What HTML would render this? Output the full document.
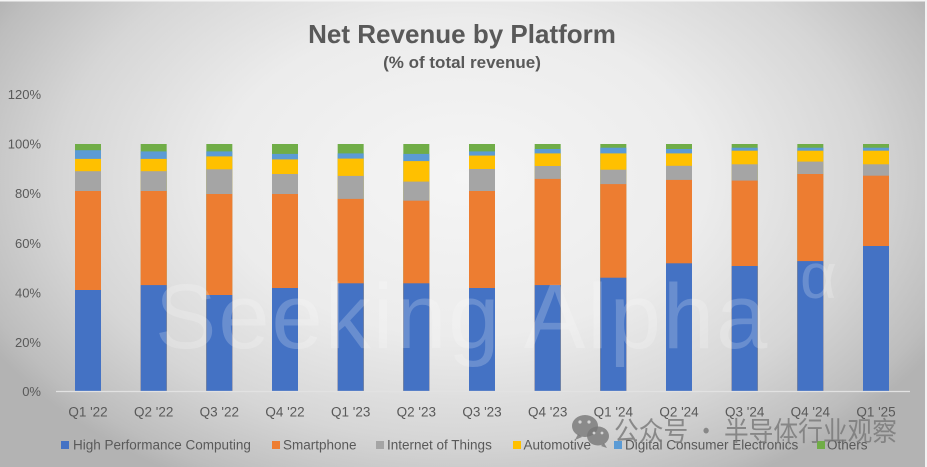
<!DOCTYPE html>
<html><head><meta charset="utf-8"><style>
html,body{margin:0;padding:0;width:927px;height:467px;overflow:hidden;}
body{background:radial-gradient(ellipse 540px 350px at 50% 38%,#f5f5f5 0%,#ececec 45%,#d6d6d6 75%,#bdbdbd 95%,#b3b3b3 100%);}
svg{display:block;position:absolute;left:0;top:0;font-family:"Liberation Sans","Noto Sans CJK SC",sans-serif;}
</style></head><body>
<svg width="927" height="467" viewBox="0 0 927 467" xmlns="http://www.w3.org/2000/svg" overflow="hidden">
<rect x="0" y="0" width="927" height="1.5" fill="#f4f4f4"/>
<rect x="925" y="0" width="2" height="467" fill="#f2f2f2"/>
<text x="462" y="43" text-anchor="middle" font-size="26" font-weight="bold" fill="#595959">Net Revenue by Platform</text>
<text x="462" y="68" text-anchor="middle" font-size="17" font-weight="bold" fill="#595959">(% of total revenue)</text>
<g font-size="13" fill="#595959" text-anchor="end">
<text x="41" y="99">120%</text>
<text x="41" y="148.5">100%</text>
<text x="41" y="198">80%</text>
<text x="41" y="248">60%</text>
<text x="41" y="297.5">40%</text>
<text x="41" y="347">20%</text>
<text x="41" y="396">0%</text>
</g>
<g>
<g transform="translate(75,0)"><rect y="144" width="26" height="247.5" fill="#70ad47"/><rect y="150.2" width="26" height="241.3" fill="#5b9bd5"/><rect y="158.9" width="26" height="232.6" fill="#ffc000"/><rect y="171.2" width="26" height="220.3" fill="#a5a5a5"/><rect y="191.0" width="26" height="200.5" fill="#ed7d31"/><rect y="290.0" width="26" height="101.5" fill="#4472c4"/></g>
<g transform="translate(140.67,0)"><rect y="144" width="26" height="247.5" fill="#70ad47"/><rect y="151.4" width="26" height="240.1" fill="#5b9bd5"/><rect y="158.9" width="26" height="232.6" fill="#ffc000"/><rect y="171.2" width="26" height="220.3" fill="#a5a5a5"/><rect y="191.0" width="26" height="200.5" fill="#ed7d31"/><rect y="285.1" width="26" height="106.4" fill="#4472c4"/></g>
<g transform="translate(206.33,0)"><rect y="144" width="26" height="247.5" fill="#70ad47"/><rect y="151.4" width="26" height="240.1" fill="#5b9bd5"/><rect y="156.4" width="26" height="235.1" fill="#ffc000"/><rect y="169.3" width="26" height="222.2" fill="#a5a5a5"/><rect y="194.0" width="26" height="197.5" fill="#ed7d31"/><rect y="295.0" width="26" height="96.5" fill="#4472c4"/></g>
<g transform="translate(272,0)"><rect y="144" width="26" height="247.5" fill="#70ad47"/><rect y="153.9" width="26" height="237.6" fill="#5b9bd5"/><rect y="159.4" width="26" height="232.1" fill="#ffc000"/><rect y="174.0" width="26" height="217.5" fill="#a5a5a5"/><rect y="194.0" width="26" height="197.5" fill="#ed7d31"/><rect y="288.0" width="26" height="103.5" fill="#4472c4"/></g>
<g transform="translate(337.67,0)"><rect y="144" width="26" height="247.5" fill="#70ad47"/><rect y="153.4" width="26" height="238.1" fill="#5b9bd5"/><rect y="158.6" width="26" height="232.9" fill="#ffc000"/><rect y="175.9" width="26" height="215.6" fill="#a5a5a5"/><rect y="198.9" width="26" height="192.6" fill="#ed7d31"/><rect y="283.3" width="26" height="108.2" fill="#4472c4"/></g>
<g transform="translate(403.33,0)"><rect y="144" width="26" height="247.5" fill="#70ad47"/><rect y="153.9" width="26" height="237.6" fill="#5b9bd5"/><rect y="161.1" width="26" height="230.4" fill="#ffc000"/><rect y="181.6" width="26" height="209.9" fill="#a5a5a5"/><rect y="200.7" width="26" height="190.8" fill="#ed7d31"/><rect y="283.3" width="26" height="108.2" fill="#4472c4"/></g>
<g transform="translate(469,0)"><rect y="144" width="26" height="247.5" fill="#70ad47"/><rect y="151.4" width="26" height="240.1" fill="#5b9bd5"/><rect y="155.6" width="26" height="235.9" fill="#ffc000"/><rect y="169.0" width="26" height="222.5" fill="#a5a5a5"/><rect y="191.0" width="26" height="200.5" fill="#ed7d31"/><rect y="288.0" width="26" height="103.5" fill="#4472c4"/></g>
<g transform="translate(534.67,0)"><rect y="144" width="26" height="247.5" fill="#70ad47"/><rect y="149.0" width="26" height="242.5" fill="#5b9bd5"/><rect y="153.4" width="26" height="238.1" fill="#ffc000"/><rect y="166.0" width="26" height="225.5" fill="#a5a5a5"/><rect y="178.9" width="26" height="212.6" fill="#ed7d31"/><rect y="285.1" width="26" height="106.4" fill="#4472c4"/></g>
<g transform="translate(600.33,0)"><rect y="144" width="26" height="247.5" fill="#70ad47"/><rect y="147.7" width="26" height="243.8" fill="#5b9bd5"/><rect y="153.4" width="26" height="238.1" fill="#ffc000"/><rect y="169.7" width="26" height="221.8" fill="#a5a5a5"/><rect y="184.1" width="26" height="207.4" fill="#ed7d31"/><rect y="277.7" width="26" height="113.8" fill="#4472c4"/></g>
<g transform="translate(666,0)"><rect y="144" width="26" height="247.5" fill="#70ad47"/><rect y="149.0" width="26" height="242.5" fill="#5b9bd5"/><rect y="153.4" width="26" height="238.1" fill="#ffc000"/><rect y="165.8" width="26" height="225.7" fill="#a5a5a5"/><rect y="179.9" width="26" height="211.6" fill="#ed7d31"/><rect y="263.3" width="26" height="128.2" fill="#4472c4"/></g>
<g transform="translate(731.67,0)"><rect y="144" width="26" height="247.5" fill="#70ad47"/><rect y="147.7" width="26" height="243.8" fill="#5b9bd5"/><rect y="150.7" width="26" height="240.8" fill="#ffc000"/><rect y="164.3" width="26" height="227.2" fill="#a5a5a5"/><rect y="180.6" width="26" height="210.9" fill="#ed7d31"/><rect y="266.0" width="26" height="125.5" fill="#4472c4"/></g>
<g transform="translate(797.33,0)"><rect y="144" width="26" height="247.5" fill="#70ad47"/><rect y="147.7" width="26" height="243.8" fill="#5b9bd5"/><rect y="150.7" width="26" height="240.8" fill="#ffc000"/><rect y="161.6" width="26" height="229.9" fill="#a5a5a5"/><rect y="174.0" width="26" height="217.5" fill="#ed7d31"/><rect y="261.1" width="26" height="130.4" fill="#4472c4"/></g>
<g transform="translate(863,0)"><rect y="144" width="26" height="247.5" fill="#70ad47"/><rect y="147.7" width="26" height="243.8" fill="#5b9bd5"/><rect y="150.7" width="26" height="240.8" fill="#ffc000"/><rect y="164.3" width="26" height="227.2" fill="#a5a5a5"/><rect y="175.7" width="26" height="215.8" fill="#ed7d31"/><rect y="246.0" width="26" height="145.5" fill="#4472c4"/></g>
</g>
<line x1="56" y1="391.5" x2="910" y2="391.5" stroke="#e2e2e2" stroke-width="1.2"/>
<text x="155" y="348" font-size="92" letter-spacing="2" fill="#ffffff" fill-opacity="0.2">Seeking Alpha</text>
<text x="800" y="298" font-size="64" fill="#ffffff" fill-opacity="0.2">α</text>
<g font-size="13.5" fill="#595959" text-anchor="middle">
<text x="88" y="416.5">Q1 '22</text>
<text x="153.67" y="416.5">Q2 '22</text>
<text x="219.33" y="416.5">Q3 '22</text>
<text x="285" y="416.5">Q4 '22</text>
<text x="350.67" y="416.5">Q1 '23</text>
<text x="416.33" y="416.5">Q2 '23</text>
<text x="482" y="416.5">Q3 '23</text>
<text x="547.67" y="416.5">Q4 '23</text>
<text x="613.33" y="416.5">Q1 '24</text>
<text x="679" y="416.5">Q2 '24</text>
<text x="744.67" y="416.5">Q3 '24</text>
<text x="810.33" y="416.5">Q4 '24</text>
<text x="876" y="416.5">Q1 '25</text>
</g>
<g font-size="13.5" fill="#595959">
<rect x="61" y="441" width="8" height="8" fill="#4472c4"/><text x="73" y="449.5">High Performance Computing</text>
<rect x="272" y="441" width="8" height="8" fill="#ed7d31"/><text x="283" y="449.5">Smartphone</text>
<rect x="376" y="441" width="8" height="8" fill="#a5a5a5"/><text x="387" y="449.5">Internet of Things</text>
<rect x="513" y="441" width="8" height="8" fill="#ffc000"/><text x="523.5" y="449.5">Automotive</text>
<rect x="614" y="441" width="8" height="8" fill="#5b9bd5"/><text x="625" y="449.5">Digital Consumer Electronics</text>
<rect x="817" y="441" width="8" height="8" fill="#70ad47"/><text x="827" y="449.5">Others</text>
</g>
<g fill="#777777" fill-opacity="0.8">
<ellipse cx="585" cy="426" rx="13" ry="11"/>
<ellipse cx="598" cy="436" rx="11" ry="9.5"/>
<path d="M578 434 l-3 6 l7 -3 z"/>
<path d="M604 443 l3 5 l-6 -2 z"/>
</g>
<g fill="#e6e6e6" fill-opacity="0.8">
<circle cx="580" cy="422" r="1.6"/><circle cx="589" cy="422" r="1.6"/>
<circle cx="594" cy="433" r="1.4"/><circle cx="602" cy="433" r="1.4"/>
</g>
<text x="614" y="441" font-size="27" textLength="283" lengthAdjust="spacingAndGlyphs" fill="#777777" fill-opacity="0.8" font-family="'Noto Sans CJK SC','WenQuanYi Zen Hei',sans-serif">公众号 · 半导体行业观察</text>
</svg>
</body></html>
